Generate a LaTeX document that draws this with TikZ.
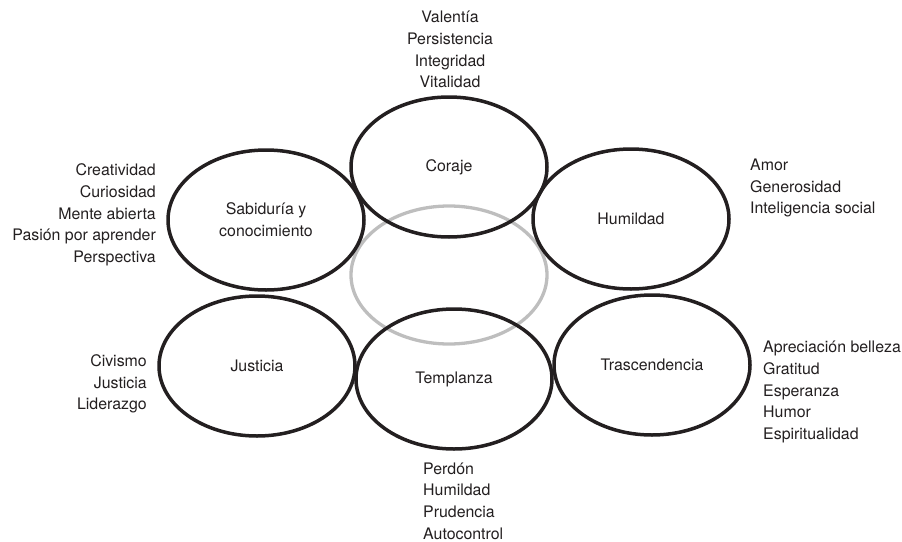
\documentclass[tikz,border=0pt]{standalone}
\usepackage{fontspec}
\setmainfont{TeX Gyre Heros}
\usetikzlibrary{shapes.geometric}
\definecolor{ringgray}{RGB}{190,190,190}
\definecolor{ink}{RGB}{35,31,32}
\begin{document}
\begin{tikzpicture}[x=1pt,y=-1pt,
  every node/.style={font=\fontsize{15.9}{21.7}\selectfont, text=ink, inner sep=0pt},
  virtue/.style={ellipse, draw=ink, line width=3.5pt, minimum width=196pt, minimum height=140pt, align=center},
  hub/.style={ellipse, draw=ringgray, line width=3.3pt, minimum width=196pt, minimum height=138pt},
  listL/.style={anchor=east, align=right},
  listR/.style={anchor=west, align=left},
  listC/.style={anchor=center, align=center}]
\useasboundingbox (0,0) rectangle (902,541);
\node[hub] (centro) at (449,275) {};
\node[virtue] (coraje) at (449,167) {Coraje};
\node[virtue] (sabiduria) at (266,220) {Sabiduría y\\conocimiento};
\node[virtue] (humildad) at (631,219) {Humildad};
\node[virtue] (justicia) at (257,366) {Justicia};
\node[virtue] (templanza) at (454,379) {Templanza};
\node[virtue] (trascendencia) at (652,365) {Trascendencia};
\node[listC] (lcoraje) at (450,49.5) {Valentía\\Persistencia\\Integridad\\Vitalidad};
\node[listL] (lsabiduria) at (156,215) {Creatividad\\Curiosidad\\Mente abierta\\Pasión por aprender\\Perspectiva};
\node[listR] (lhumildad) at (750,188) {Amor\\Generosidad\\Inteligencia social};
\node[listL] (ljusticia) at (147,384) {Civismo\\Justicia\\Liderazgo};
\node[listR] (ltemplanza) at (423,501) {Perdón\\Humildad\\Prudencia\\Autocontrol};
\node[listR] (ltrascendencia) at (763,392) {Apreciación belleza\\Gratitud\\Esperanza\\Humor\\Espiritualidad};
\end{tikzpicture}
\end{document}
